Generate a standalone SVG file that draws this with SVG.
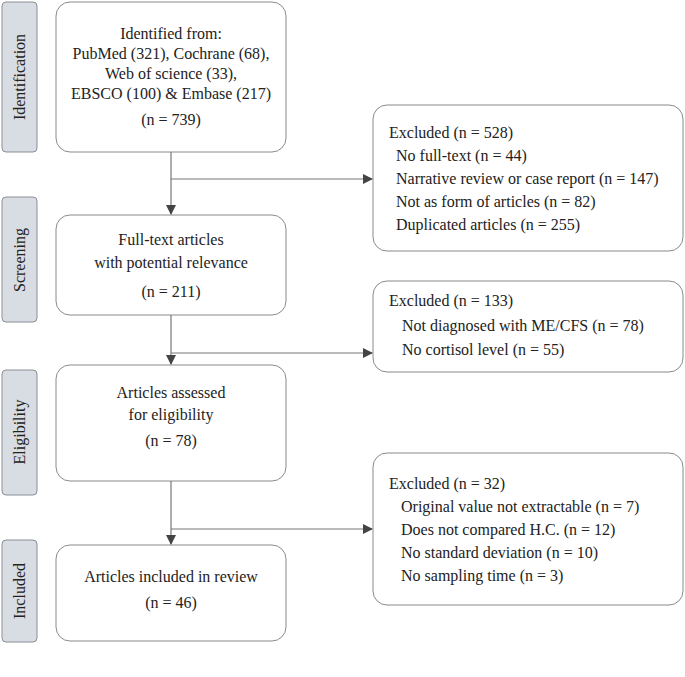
<svg xmlns="http://www.w3.org/2000/svg" width="685" height="677" viewBox="0 0 685 677">
<style>
.side{fill:#d8dce3;stroke:#8a8f96;stroke-width:1}
.box{fill:#fff;stroke:#8a8a8a;stroke-width:1}
text{font-family:'Liberation Serif','Times New Roman','DejaVu Serif',serif;font-size:16px;fill:#222}
.c{text-anchor:middle}
.ln{stroke:#777;stroke-width:1.2;fill:none}
</style>
<defs><marker id="a" markerWidth="10" markerHeight="10" refX="9" refY="5" orient="auto" markerUnits="userSpaceOnUse"><path d="M0,0L10,5L0,10z" fill="#444"/></marker></defs>
<rect width="685" height="677" fill="#fff"/>
<g id="phase-identification"><rect class="side" x="2" y="2" width="35" height="150" rx="4"/><text class="c" font-family="Liberation Serif, serif" transform="translate(25,77) rotate(-90)">Identification</text></g>
<g id="phase-screening"><rect class="side" x="2" y="197" width="35" height="125" rx="4"/><text class="c" font-family="Liberation Serif, serif" transform="translate(25,260) rotate(-90)">Screening</text></g>
<g id="phase-eligibility"><rect class="side" x="2" y="370" width="35" height="125" rx="4"/><text class="c" font-family="Liberation Serif, serif" transform="translate(25,432) rotate(-90)">Eligibility</text></g>
<g id="phase-included"><rect class="side" x="2" y="540" width="35" height="102" rx="4"/><text class="c" font-family="Liberation Serif, serif" transform="translate(25,591) rotate(-90)">Included</text></g>
<g id="n-identified" font-family="Liberation Serif, serif"><rect class="box" x="56" y="2" width="230" height="150" rx="14"/>
<text class="c" x="171" y="39">Identified from:</text><text class="c" x="171" y="59">PubMed (321), Cochrane (68),</text><text class="c" x="171" y="79">Web of science (33),</text><text class="c" x="171" y="99">EBSCO (100) &amp; Embase (217)</text><text class="c" x="171" y="125">(n = 739)</text></g>
<g id="n-screen"><rect class="box" x="56" y="215" width="230" height="100" rx="14"/>
<text class="c" x="171" y="245">Full-text articles</text><text class="c" x="171" y="268">with potential relevance</text><text class="c" x="171" y="297">(n = 211)</text></g>
<g id="n-elig"><rect class="box" x="56" y="365" width="230" height="116" rx="14"/>
<text class="c" x="171" y="398">Articles assessed</text><text class="c" x="171" y="420">for eligibility</text><text class="c" x="171" y="446">(n = 78)</text></g>
<g id="n-incl"><rect class="box" x="56" y="545" width="230" height="96" rx="14"/>
<text class="c" x="171" y="582">Articles included in review</text><text class="c" x="171" y="608">(n = 46)</text></g>
<g id="x1"><rect class="box" x="373" y="105" width="310" height="146" rx="14"/>
<text x="389" y="138">Excluded  (n = 528)</text><text x="396" y="161">No full-text (n = 44)</text><text x="396" y="184">Narrative review or case report (n = 147)</text><text x="396" y="207">Not as form of articles (n = 82)</text><text x="396" y="230">Duplicated articles (n = 255)</text></g>
<g id="x2"><rect class="box" x="373" y="281" width="310" height="91" rx="14"/>
<text x="389" y="306">Excluded (n = 133)</text><text x="402" y="331">Not diagnosed with ME/CFS (n = 78)</text><text x="402" y="355">No cortisol level (n = 55)</text></g>
<g id="x3"><rect class="box" x="373" y="453" width="310" height="152" rx="14"/>
<text x="389" y="489">Excluded (n = 32)</text><text x="401" y="512">Original value not extractable (n = 7)</text><text x="401" y="535">Does not compared H.C. (n = 12)</text><text x="401" y="558">No standard deviation (n = 10)</text><text x="401" y="581">No sampling time (n = 3)</text></g>
<g id="connectors">
<path class="ln" d="M171,152V214" marker-end="url(#a)"/><path class="ln" d="M171,179H372" marker-end="url(#a)"/>
<path class="ln" d="M171,315V364" marker-end="url(#a)"/><path class="ln" d="M171,353H372" marker-end="url(#a)"/>
<path class="ln" d="M171,481V544" marker-end="url(#a)"/><path class="ln" d="M171,529H372" marker-end="url(#a)"/>
</g>
</svg>
